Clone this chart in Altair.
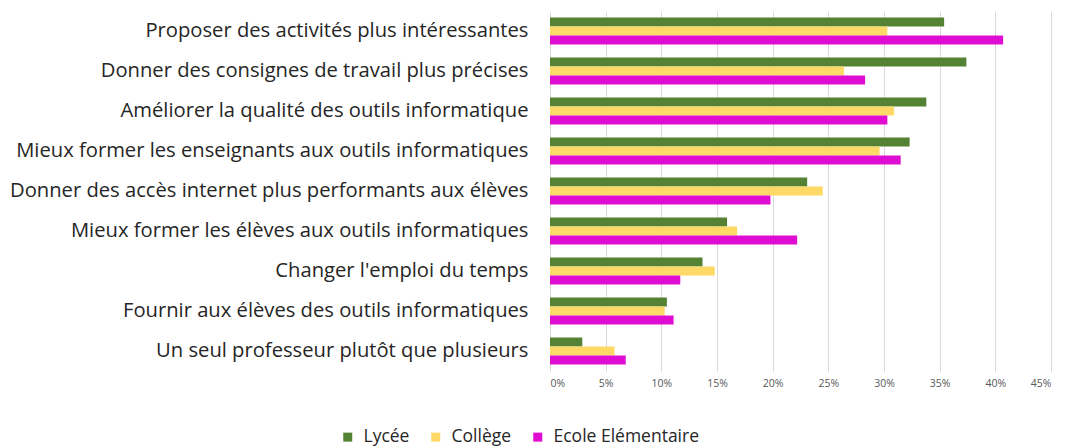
import altair as alt
import pandas as pd

categories = [
    "Proposer des activités plus intéressantes",
    "Donner des consignes de travail plus précises",
    "Améliorer la qualité des outils informatique",
    "Mieux former les enseignants aux outils informatiques",
    "Donner des accès internet plus performants aux élèves",
    "Mieux former les élèves aux outils informatiques",
    "Changer l'emploi du temps",
    "Fournir aux élèves des outils informatiques",
    "Un seul professeur plutôt que plusieurs",
]
series = ["Lycée", "Collège", "Ecole Elémentaire"]
lycee = [35.4, 37.4, 33.8, 32.3, 23.1, 15.9, 13.7, 10.5, 2.9]
college = [30.3, 26.4, 30.9, 29.6, 24.5, 16.8, 14.8, 10.3, 5.8]
ecole = [40.7, 28.3, 30.3, 31.5, 19.8, 22.2, 11.7, 11.1, 6.8]
colors = ["#548235", "#FFD966", "#E10CD1"]

rows = []
for s, vals in zip(series, [lycee, college, ecole]):
    for c, v in zip(categories, vals):
        rows.append({"cat": c, "serie": s, "val": v / 100})
df = pd.DataFrame(rows)

chart = alt.Chart(df).mark_bar().encode(
    y=alt.Y("cat:N", sort=categories, title=None,
            scale=alt.Scale(paddingInner=0.325, paddingOuter=0.1625),
            axis=alt.Axis(domain=False, ticks=False, grid=False, labelFontSize=20.2,
                          labelFont="Open Sans", labelColor="#262626", labelPadding=22,
                          labelLimit=600)),
    yOffset=alt.YOffset("serie:N", sort=series),
    x=alt.X("val:Q", title=None,
            scale=alt.Scale(domain=[0, 0.45], nice=False),
            axis=alt.Axis(format=".0%", values=[i * 0.05 for i in range(10)],
                          domain=False, ticks=False, grid=True, gridColor="#d9d9d9",
                          labelFontSize=10.5, labelFont="Open Sans", labelColor="#595959",
                          labelPadding=7)),
    color=alt.Color("serie:N", sort=series,
                    scale=alt.Scale(domain=series, range=colors),
                    legend=alt.Legend(title=None, orient="none", direction="horizontal",
                                      legendX=-211, legendY=417, symbolType="square",
                                      symbolSize=81, symbolStrokeWidth=0,
                                      labelFontSize=17.5, labelFont="Open Sans",
                                      labelColor="#262626", columnPadding=17,
                                      labelOffset=7, symbolOpacity=1)),
).properties(
    width=501, height=360,
    autosize=alt.AutoSizeParams(type="none"),
    padding={"left": 542, "top": 3, "right": 20, "bottom": 80},
).configure_view(stroke=None)

chart.save("out.html", embed_options={"renderer": "svg", "actions": False})
